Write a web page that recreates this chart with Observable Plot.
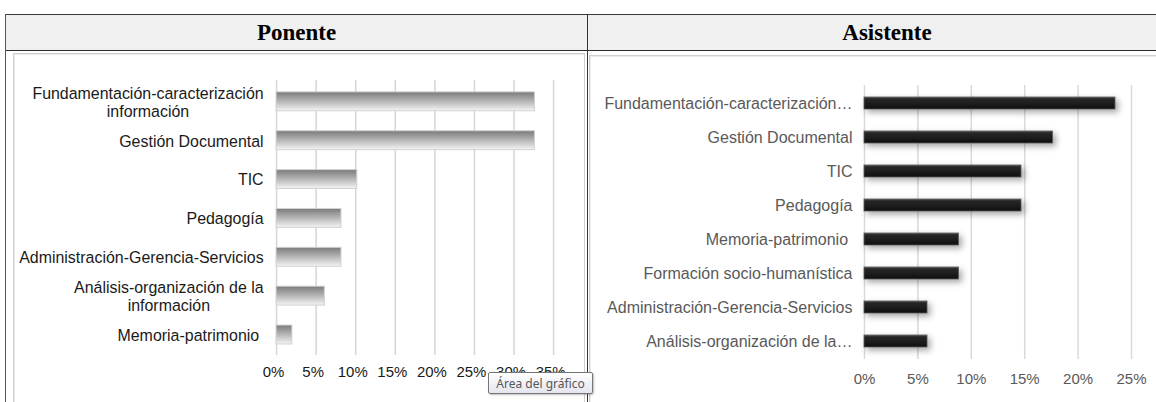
<!DOCTYPE html>
<html><head><meta charset="utf-8">
<script src="https://cdn.jsdelivr.net/npm/d3@7"></script>
<script src="https://cdn.jsdelivr.net/npm/@observablehq/plot@0.6"></script>
<style>
body{margin:0;background:#fff;width:1156px;height:402px;overflow:hidden;position:relative;font-family:"Liberation Sans",Arial,sans-serif}
.abs{position:absolute;box-sizing:border-box}
.hdr{top:14px;height:37px;background:#f0f0f0;border-top:1px solid #3a3a3a;border-bottom:1px solid #2a2a2a;
 font-family:"Liberation Serif","Times New Roman",serif;font-weight:bold;font-size:23px;color:#000;
 display:flex;align-items:center;justify-content:center}
.panel{border:1px solid #cfcfcf;background:#fff;box-shadow:inset 1px 1px 0 #eaeaea}
#tip{left:488px;top:372px;width:105px;height:22px;border:1px solid #767676;border-radius:2px;
 background:linear-gradient(#ffffff,#e4e5ef);font-family:"Noto Sans","DejaVu Sans",sans-serif;font-size:12px;color:#575757;
 box-shadow:1px 1px 2px rgba(0,0,0,0.25);display:flex;align-items:center;justify-content:center;white-space:nowrap}
</style>
</head><body>
<div class="abs hdr" style="left:5px;width:583px;">Ponente</div>
<div class="abs hdr" style="left:587px;width:600px;">Asistente</div>
<div class="abs" style="left:5px;top:14px;width:1px;height:400px;background:#555"></div>
<div class="abs" style="left:587px;top:14px;width:1px;height:400px;background:#333"></div>
<div class="abs panel" id="pl" style="left:13px;top:53px;width:572px;height:370px;"></div>
<div class="abs panel" id="pr" style="left:589px;top:55px;width:600px;height:370px;"></div>
<div class="abs" id="tip">Área del gráfico</div>
<script>
// ---- Data ----
const ponenteCats = ["Fundamentación-caracterización información","Gestión Documental","TIC","Pedagogía","Administración-Gerencia-Servicios","Análisis-organización de la información","Memoria-patrimonio"];
const ponenteLabels = ["Fundamentación-caracterización\ninformación","Gestión Documental","TIC","Pedagogía","Administración-Gerencia-Servicios","Análisis-organización de la\ninformación","Memoria-patrimonio "];
const ponenteValues = [32.65, 32.65, 10.2, 8.2, 8.2, 6.1, 2.0];
const ponenteTicks = [0, 5, 10, 15, 20, 25, 30, 35];

const asistenteCats = ["Fundamentación-caracterización información","Gestión Documental","TIC","Pedagogía","Memoria-patrimonio","Formación socio-humanística","Administración-Gerencia-Servicios","Análisis-organización de la información"];
const asistenteLabels = ["Fundamentación-caracterización…","Gestión Documental","TIC","Pedagogía","Memoria-patrimonio ","Formación socio-humanística","Administración-Gerencia-Servicios","Análisis-organización de la…"];
const asistenteValues = [23.5, 17.65, 14.7, 14.7, 8.85, 8.85, 5.9, 5.9];
const asistenteTicks = [0, 5, 10, 15, 20, 25];

const ponData = ponenteCats.map((c, i) => ({cat: c, value: ponenteValues[i]}));
const asiData = asistenteCats.map((c, i) => ({cat: c, value: asistenteValues[i]}));

// ---- Left chart ----
const left = Plot.plot({
  width: 572, height: 349,
  marginLeft: 263, marginRight: 31, marginTop: 26, marginBottom: 47,
  x: {domain: [0, 35], label: null},
  y: {domain: ponenteCats, paddingInner: 0.52, paddingOuter: 0.26, label: null},
  style: {fontFamily: "'Liberation Sans', Arial, sans-serif", fontSize: "16px", color: "#1a1a1a", background: "transparent", overflow: "visible"},
  marks: [
    Plot.gridX(ponenteTicks, {stroke: "#d6d6d6", strokeOpacity: 1, strokeWidth: 1.5}),
    Plot.barX(ponData, {x: "value", y: "cat", fill: "url(#gradPon)", stroke: "#d2d2d2", strokeWidth: 1}),
    Plot.axisX({ticks: ponenteTicks, tickSize: 0, tickPadding: 11, tickFormat: d => d + "%", fontSize: 15, dx: -3}),
    Plot.axisY({tickSize: 0, tickPadding: 13, tickFormat: c => ponenteLabels[ponenteCats.indexOf(c)], lineHeight: 1.15, fontSize: 16})
  ]
});
d3.select(left).insert("defs", ":first-child").html(
  '<linearGradient id="gradPon" x1="0" y1="0" x2="0" y2="1">' +
  '<stop offset="0" stop-color="#7a7a7a"/><stop offset="0.45" stop-color="#b0b0b0"/><stop offset="1" stop-color="#f4f4f4"/></linearGradient>');
left.style.position = "absolute"; left.style.left = "0px"; left.style.top = "0px";
document.getElementById("pl").appendChild(left);

// centre wrapped labels like the original
d3.select(left).selectAll("text").each(function() {
  const tspans = this.querySelectorAll("tspan");
  if (tspans.length > 1) {
    let w = 0;
    tspans.forEach(t => { w = Math.max(w, t.getComputedTextLength()); });
    this.setAttribute("text-anchor", "middle");
    tspans.forEach(t => t.setAttribute("x", -w / 2));
  }
});

// ---- Right chart ----
const right = Plot.plot({
  width: 567, height: 347,
  marginLeft: 274, marginRight: 26, marginTop: 29, marginBottom: 44,
  x: {domain: [0, 25], label: null},
  y: {domain: asistenteCats, paddingInner: 0.64, paddingOuter: 0.32, label: null},
  style: {fontFamily: "'Liberation Sans', Arial, sans-serif", fontSize: "16px", color: "#595959", background: "transparent", overflow: "visible"},
  marks: [
    Plot.gridX(asistenteTicks, {stroke: "#d9d9d9", strokeOpacity: 1, strokeWidth: 1.5}),
    Plot.barX(asiData, {x: "value", y: "cat", fill: "url(#gradAsi)", stroke: "#5a5a5a", strokeWidth: 0.8}),
    Plot.axisX({ticks: asistenteTicks, tickSize: 0, tickPadding: 14, tickFormat: d => d + "%", fontSize: 15, fill: "#595959"}),
    Plot.axisY({tickSize: 0, tickPadding: 12, tickFormat: c => asistenteLabels[asistenteCats.indexOf(c)], fontSize: 16, fill: "#595959"})
  ]
});
d3.select(right).insert("defs", ":first-child").html(
  '<linearGradient id="gradAsi" x1="0" y1="0" x2="0" y2="1">' +
  '<stop offset="0" stop-color="#5c5c5c"/><stop offset="0.15" stop-color="#262626"/><stop offset="0.55" stop-color="#1d1d1d"/><stop offset="1" stop-color="#0e0e0e"/></linearGradient>');
right.style.position = "absolute"; right.style.left = "0px"; right.style.top = "0px";
document.getElementById("pr").appendChild(right);
d3.select(right).selectAll("rect").filter(function() { return this.getAttribute("fill") === "url(#gradAsi)" || (this.parentNode && this.parentNode.getAttribute("fill") === "url(#gradAsi)"); })
  .style("filter", "drop-shadow(3px 3px 3px rgba(0,0,0,0.35))");
</script>
</body></html>
